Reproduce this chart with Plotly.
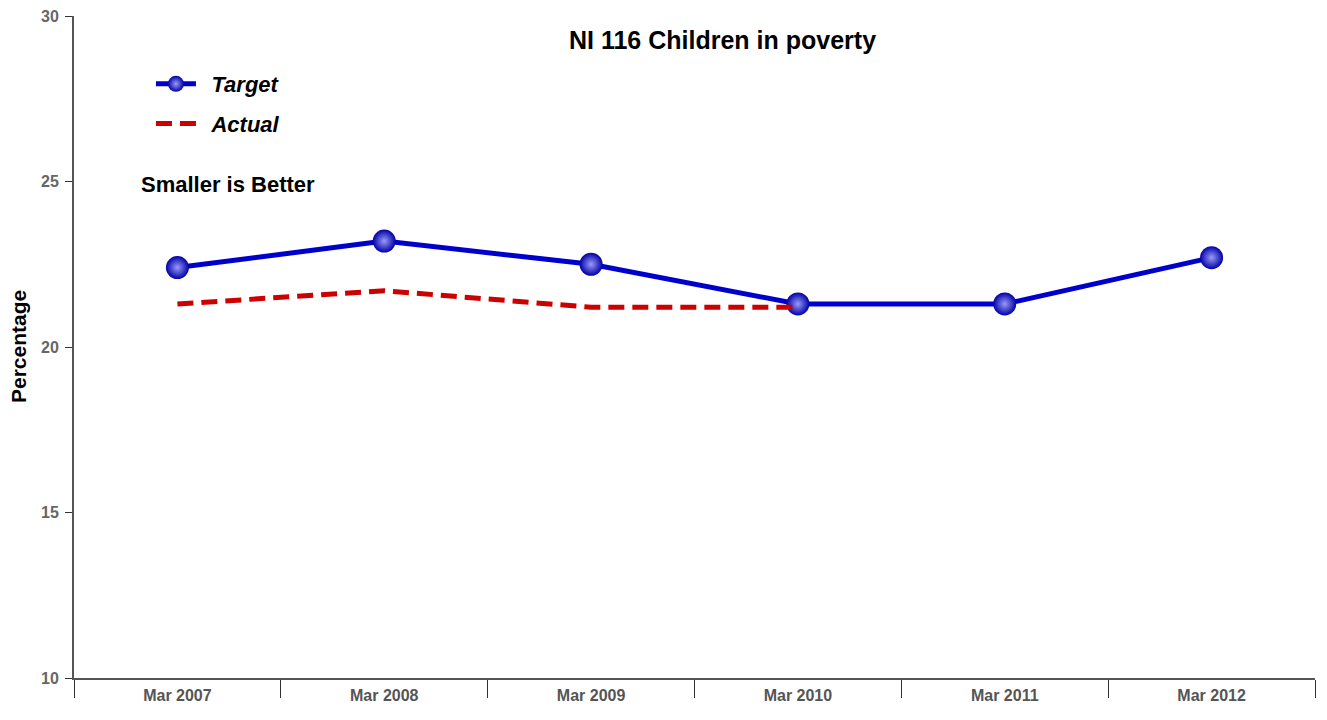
import plotly.graph_objects as go

categories = ["Mar 2007", "Mar 2008", "Mar 2009", "Mar 2010", "Mar 2011", "Mar 2012"]
target = [22.4, 23.2, 22.5, 21.3, 21.3, 22.7]
actual = [21.3, 21.7, 21.2, 21.2, None, None]

FONT = "Liberation Sans, Arial, sans-serif"

fig = go.Figure()
fig.add_trace(go.Scatter(
    x=categories, y=target, name="\u00a0\u2009<b><i>Target</i></b>", mode="lines+markers",
    line=dict(color="#0000CC", width=5),
    marker=dict(size=23, color="#0000A8", line=dict(width=0),
                gradient=dict(type="radial", color="#9A9AF8")),
    legendgroup="a",
))
fig.add_trace(go.Scatter(
    x=categories, y=actual, name="\u00a0\u2009<b><i>Actual</i></b>", mode="lines",
    line=dict(color="#CC0000", width=5, dash="16px,8px"),
    legendgroup="b",
))

fig.update_layout(
    width=1327, height=720,
    margin=dict(l=74, r=12, t=16, b=42),
    paper_bgcolor="white", plot_bgcolor="white",
    font=dict(family=FONT),
    showlegend=True,
    legend=dict(x=0.062, y=0.929, xanchor="left", yanchor="top",
                font=dict(size=22, color="black", family=FONT),
                tracegroupgap=8, traceorder="grouped", itemwidth=40,
                bgcolor="rgba(0,0,0,0)"),
    xaxis=dict(type="category", tickson="boundaries", ticks="outside", ticklen=18,
               tickcolor="#333", showline=True, linecolor="#555", linewidth=2,
               showgrid=False, ticklabelstandoff=2, automargin=False,
               tickfont=dict(size=16, color="#555", family=FONT, weight="bold"),
               range=[-0.5, 5.5]),
    yaxis=dict(range=[10, 30], tickvals=[10, 15, 20, 25, 30], ticks="outside", ticklen=7,
               tickcolor="#333", showline=True, linecolor="#555", linewidth=2,
               showgrid=False, zeroline=False, automargin=False, ticklabelstandoff=3,
               tickfont=dict(size=16, color="#666", family=FONT, weight="bold")),
)
fig.add_annotation(text="<b>Percentage</b>", x=(18 - 74) / 1241, y=0.5, textangle=-90,
                   xref="paper", yref="paper", showarrow=False, xanchor="center", yanchor="middle",
                   font=dict(size=21, color="black", family=FONT))
fig.add_annotation(text="<b>NI 116 Children in poverty</b>", x=(722 - 74) / 1241, y=1 - (40 - 16) / 662,
                   xref="paper", yref="paper", showarrow=False, xanchor="center", yanchor="middle",
                   font=dict(size=25, color="black", family=FONT))
fig.add_annotation(text="<b>Smaller is Better</b>", x=(139 - 74) / 1241, y=1 - (184 - 16) / 662,
                   xref="paper", yref="paper", showarrow=False, xanchor="left", yanchor="middle",
                   font=dict(size=22, color="black", family=FONT))

fig.write_html("out.html")
